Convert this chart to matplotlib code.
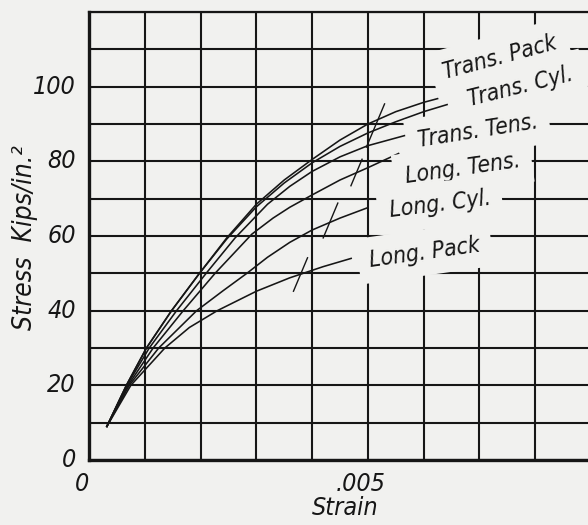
import numpy as np
import matplotlib
matplotlib.use('Agg')
import matplotlib.pyplot as plt
from matplotlib.path import Path
from matplotlib import font_manager as fm

# Stress-strain curves, strain in thousandths, stress in kips/in.^2
trans_pack_strain = [0.32, 0.67, 1.03, 1.48, 1.98, 2.47, 3.0, 3.5, 4.0, 4.5, 5.0, 5.5, 6.0, 6.25]
trans_pack_stress = [9, 20, 30, 40, 50, 59.5, 68.5, 75.0, 80.5, 85.7, 90.0, 93.3, 95.8, 96.8]

trans_cyl_strain = [0.32, 0.67, 1.03, 1.48, 1.98, 2.47, 3.0, 3.5, 4.0, 4.5, 5.0, 5.5, 6.0, 6.42]
trans_cyl_stress = [9, 20, 30, 40, 50, 59.2, 67.8, 74.2, 79.6, 84.0, 87.6, 90.6, 93.3, 95.2]

trans_tens_strain = [0.32, 0.68, 1.08, 1.57, 2.1, 2.62, 3.2, 3.6, 4.0, 4.5, 5.0, 5.66]
trans_tens_stress = [9, 20, 30, 40, 50, 59.5, 68.5, 73.3, 77.3, 81.2, 84.2, 86.9]

long_tens_strain = [0.32, 0.7, 1.15, 1.69, 2.26, 2.92, 3.3, 3.6, 4.0, 4.5, 5.0, 5.55]
long_tens_stress = [9, 20, 30, 40, 50, 60.5, 64.8, 67.7, 71.0, 75.0, 78.3, 82.1]

long_cyl_strain = [0.32, 0.72, 1.25, 1.93, 2.4, 2.83, 3.2, 3.6, 4.0, 4.5, 5.0]
long_cyl_stress = [9, 20, 30, 40, 45.3, 50, 54.3, 58.3, 61.6, 64.8, 67.6]

long_pack_strain = [0.32, 0.75, 1.36, 1.8, 2.3, 3.0, 3.6, 4.2, 4.7]
long_pack_stress = [9, 20, 30, 35.5, 40, 45.2, 48.8, 51.8, 54.0]

curve_names = ['Trans. Pack', 'Trans. Cyl.', 'Trans. Tens.',
               'Long. Tens.', 'Long. Cyl.', 'Long. Pack']

# slash marks across the curves
mark_strain = [5.13, 4.78, 4.32, 3.78]
mark_stress = [89.7, 77.1, 64.2, 49.7]
mark_size = [32, 20, 26, 25]

# curve label positions (strain in thousandths, stress) and slopes
label_strain = [7.37, 7.74, 6.97, 6.70, 6.29, 6.02]
label_stress = [107.8, 100.0, 88.0, 78.1, 68.4, 55.6]
label_angle = [15, 14, 9, 8, 7, 8]

yticks = [0, 20, 40, 60, 80, 100]
xtick_vals = [0, 0.005]
xtick_text = ['0', '.005']

paper = '#f1f1ef'
ink = '#161616'

curves = [
    (trans_pack_strain, trans_pack_stress),
    (trans_cyl_strain, trans_cyl_stress),
    (trans_tens_strain, trans_tens_stress),
    (long_tens_strain, long_tens_stress),
    (long_cyl_strain, long_cyl_stress),
    (long_pack_strain, long_pack_stress),
]

# lettering: condensed oblique sans if the system has it
lettering = fm.FontProperties(family='DejaVu Sans', style='italic',
                              stretch='condensed')
font_file = fm.findfont(lettering)


def letter(size):
    return fm.FontProperties(fname=font_file, size=size)


fig = plt.figure(figsize=(5.88, 5.25), dpi=100, facecolor=paper)
ax = fig.add_axes([89 / 588, 65 / 525, 502 / 588, 448 / 525], facecolor=paper)
ax.set_xlim(0, 0.009)
ax.set_ylim(0, 120)

# grid every .001 strain and every 10 kips
ax.set_xticks(np.arange(0, 0.0091, 0.001))
ax.set_yticks(np.arange(0, 121, 10))
ax.grid(True, color=ink, lw=1.5, zorder=1)
ax.set_axisbelow(True)
ax.tick_params(length=0)
ax.set_xticklabels([])
ax.set_yticklabels([])

for v in yticks:
    ax.annotate(str(v), xy=(0, v), xycoords=('axes fraction', 'data'),
                xytext=(-9.5, 0), textcoords='offset points',
                ha='right', va='center', color=ink, fontproperties=letter(18))
for v, t in zip(xtick_vals, xtick_text):
    ax.annotate(t, xy=(v, 0), xycoords=('data', 'axes fraction'),
                xytext=(-5, -17), textcoords='offset points',
                ha='center', va='center', color=ink, fontproperties=letter(18))

for side in ['left', 'bottom']:
    ax.spines[side].set_linewidth(2.4)
    ax.spines[side].set_color(ink)
ax.spines['top'].set_linewidth(1.6)
ax.spines['top'].set_color(ink)
ax.spines['right'].set_visible(False)

for (s, S) in curves:
    ax.plot(np.array(s) * 1e-3, S, color=ink, lw=1.15, zorder=3)

slash = Path([(-0.42, -1), (0.42, 1)], [Path.MOVETO, Path.LINETO])
for s, S, ms in zip(mark_strain, mark_stress, mark_size):
    ax.plot(s * 1e-3, S, marker=slash, markersize=ms, mew=1.0,
            color=ink, ls='none', zorder=3)

for name, s, S, a in zip(curve_names, label_strain, label_stress, label_angle):
    ax.text(s * 1e-3, S, name, color=ink, fontproperties=letter(16.5),
            ha='center', va='center', rotation=a, rotation_mode='anchor',
            zorder=4,
            bbox=dict(boxstyle='square,pad=0.5', fc=paper, ec='none'))

fig.text(25 / 588, 1 - 238 / 525, 'Stress  Kips/in.²', rotation=90,
         ha='center', va='center', color=ink, fontproperties=letter(19))
fig.text(345 / 588, 1 - 508 / 525, 'Strain', ha='center', va='center',
         color=ink, fontproperties=letter(18))

fig.savefig('out.png', dpi=100, facecolor=paper)
